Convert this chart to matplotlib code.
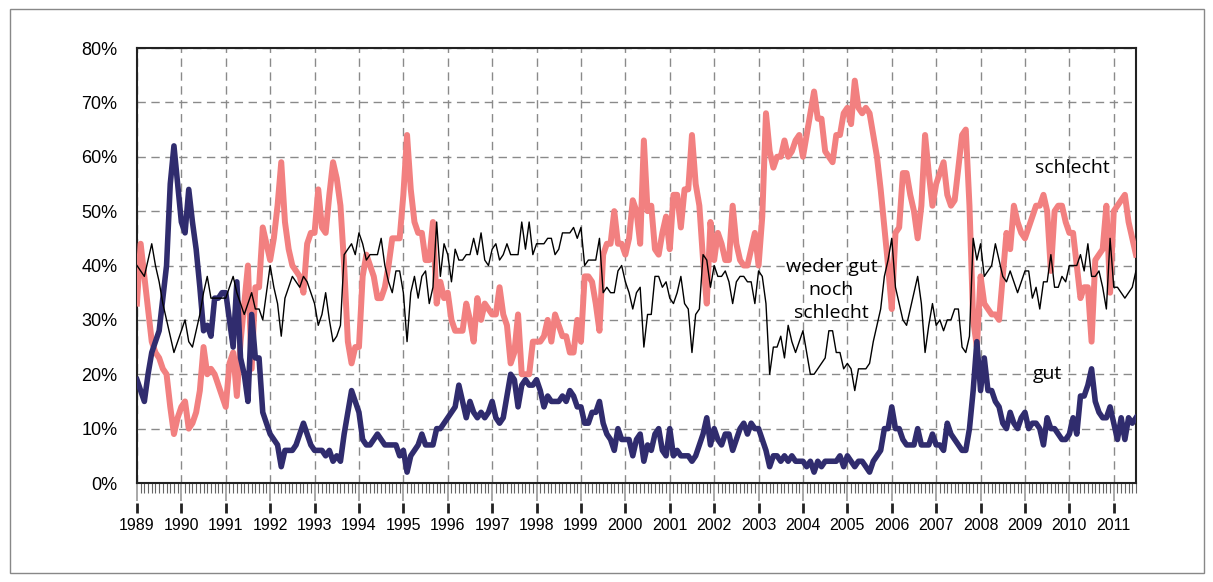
import numpy as np
import matplotlib.pyplot as plt
from matplotlib.ticker import MultipleLocator
from matplotlib.patches import Rectangle

plt.rcParams['font.family'] = ['Liberation Sans', 'DejaVu Sans']

# monthly shares in %, Jan 1989 - Jul 2011 (one row per year)
gut = [
    19, 17, 15, 20, 24, 26, 28, 34, 40, 55, 62, 55,
    48, 46, 54, 48, 43, 36, 28, 29, 27, 34, 34, 35,
    35, 30, 25, 37, 23, 20, 15, 31, 23, 23, 13, 11,
    9, 8, 7, 3, 6, 6, 6, 7, 9, 11, 9, 7,
    6, 6, 6, 5, 6, 4, 5, 4, 9, 13, 17, 15,
    13, 8, 7, 7, 8, 9, 8, 7, 7, 7, 7, 5,
    6, 2, 5, 6, 7, 9, 7, 7, 7, 10, 10, 11,
    12, 13, 14, 18, 15, 12, 15, 13, 12, 13, 12, 13,
    15, 12, 11, 12, 16, 20, 19, 14, 18, 19, 18, 18,
    19, 17, 14, 16, 15, 15, 15, 16, 15, 17, 16, 14,
    14, 11, 11, 13, 13, 15, 11, 9, 8, 6, 10, 8,
    8, 8, 5, 8, 9, 4, 7, 6, 9, 10, 6, 5,
    10, 5, 6, 5, 5, 5, 4, 5, 7, 9, 12, 7,
    10, 8, 7, 9, 9, 6, 8, 10, 11, 9, 11, 10,
    10, 8, 6, 3, 5, 5, 4, 5, 4, 5, 4, 4,
    4, 3, 4, 2, 4, 3, 4, 4, 4, 4, 5, 3,
    5, 4, 3, 4, 4, 3, 2, 4, 5, 6, 10, 10,
    14, 10, 10, 8, 7, 7, 7, 10, 7, 7, 7, 9,
    7, 7, 6, 11, 9, 8, 7, 6, 6, 10, 17, 26,
    17, 23, 17, 17, 15, 14, 11, 10, 13, 11, 10, 12,
    13, 10, 11, 11, 10, 7, 12, 10, 10, 9, 8, 8,
    9, 12, 9, 16, 16, 18, 21, 15, 13, 12, 12, 14,
    11, 8, 12, 8, 12, 11, 12,
]

schlecht = [
    33, 44, 38, 32, 26, 24, 23, 21, 20, 14, 9, 12,
    14, 15, 10, 11, 13, 17, 25, 20, 21, 20, 18, 16,
    14, 22, 24, 16, 26, 33, 40, 21, 36, 36, 47, 44,
    41, 45, 51, 59, 48, 43, 40, 39, 38, 35, 44, 46,
    46, 54, 47, 46, 53, 59, 56, 51, 40, 26, 22, 25,
    25, 38, 42, 40, 38, 34, 34, 36, 40, 45, 45, 45,
    53, 64, 54, 48, 46, 46, 41, 41, 48, 33, 37, 34,
    35, 30, 28, 28, 28, 33, 30, 26, 34, 30, 33, 32,
    31, 31, 36, 31, 29, 22, 24, 31, 20, 20, 20, 26,
    26, 26, 27, 30, 26, 31, 29, 27, 27, 24, 24, 30,
    26, 38, 38, 37, 33, 28, 42, 44, 44, 50, 44, 44,
    42, 45, 52, 50, 44, 63, 50, 51, 43, 42, 46, 49,
    43, 53, 53, 47, 54, 54, 64, 55, 51, 41, 33, 48,
    41, 46, 44, 41, 41, 51, 44, 41, 40, 40, 43, 46,
    40, 49, 68, 61, 58, 60, 60, 63, 60, 61, 63, 64,
    60, 64, 68, 72, 67, 67, 61, 60, 59, 64, 64, 68,
    69, 66, 74, 69, 68, 69, 68, 64, 60, 54, 47, 40,
    32, 46, 47, 57, 57, 53, 50, 45, 51, 64, 57, 51,
    55, 57, 59, 53, 51, 52, 58, 64, 65, 51, 30, 25,
    38, 33, 32, 31, 31, 30, 38, 46, 43, 51, 48, 46,
    45, 47, 49, 51, 51, 53, 50, 39, 50, 51, 51, 48,
    46, 46, 40, 34, 36, 36, 26, 41, 42, 43, 51, 35,
    50, 51, 52, 53, 48, 45, 42,
]

weder = [
    40, 39, 38, 41, 44, 40, 37, 33, 30, 27, 24, 26,
    28, 30, 26, 25, 28, 31, 35, 38, 34, 34, 34, 34,
    34, 36, 38, 35, 33, 31, 33, 35, 32, 32, 30, 35,
    40, 36, 33, 27, 34, 36, 38, 37, 36, 38, 37, 35,
    33, 29, 31, 35, 30, 26, 27, 29, 42, 43, 44, 42,
    46, 44, 41, 42, 42, 42, 45, 40, 37, 35, 39, 39,
    35, 26, 35, 38, 34, 38, 39, 33, 36, 48, 38, 44,
    42, 37, 43, 41, 41, 42, 42, 45, 42, 46, 41, 40,
    43, 44, 41, 42, 44, 42, 42, 42, 48, 43, 48, 42,
    44, 44, 44, 45, 45, 42, 43, 46, 46, 46, 47, 45,
    47, 40, 41, 41, 41, 45, 35, 36, 35, 35, 39, 40,
    37, 35, 32, 35, 36, 25, 31, 31, 38, 38, 36, 37,
    34, 33, 35, 38, 33, 32, 24, 31, 32, 42, 41, 36,
    40, 38, 38, 39, 37, 33, 37, 38, 38, 37, 37, 33,
    39, 38, 33, 20, 25, 25, 27, 23, 29, 26, 24, 26,
    28, 24, 20, 20, 21, 22, 23, 28, 28, 24, 24, 21,
    22, 21, 17, 21, 21, 21, 22, 26, 29, 32, 38, 41,
    45, 36, 33, 30, 29, 32, 35, 38, 33, 24, 29, 33,
    29, 30, 28, 30, 30, 32, 32, 25, 24, 27, 45, 41,
    44, 38, 39, 40, 44, 41, 38, 37, 39, 37, 35, 37,
    39, 39, 34, 36, 32, 37, 37, 42, 36, 36, 38, 37,
    40, 40, 40, 42, 39, 44, 38, 38, 39, 36, 32, 45,
    36, 36, 35, 34, 35, 36, 39,
]

years = list(range(1989, 2012))
pct_ticks = [0, 10, 20, 30, 40, 50, 60, 70, 80]

t = 1989 + np.arange(len(gut)) / 12

fig = plt.figure(figsize=(12.13, 5.82), dpi=100)
ax = fig.add_axes([0.1129, 0.1701, 0.8236, 0.7474])

ax.plot(t, schlecht, color='#F28080', lw=4.3, zorder=3)
ax.plot(t, gut, color='#302C6E', lw=4.0, zorder=4)
ax.plot(t, weder, color='black', lw=1.0, zorder=5)

ax.set_xlim(1989, 1989 + 270 / 12)
ax.set_ylim(0, 80)
ax.set_xticks(years)
ax.xaxis.set_minor_locator(MultipleLocator(1 / 12))
ax.set_yticks(pct_ticks)
ax.set_yticklabels([f'{v}%' for v in pct_ticks])

ax.grid(True, which='major', color='#8a8a8a', linestyle=(0, (6, 4)), lw=1)
ax.set_axisbelow(True)
ax.tick_params(axis='x', which='major', length=13, width=1.2, color='#9a9a9a',
               labelbottom=False)
ax.tick_params(axis='x', which='minor', length=7, width=0.8, color='#666666')
ax.tick_params(axis='y', length=0, pad=14, labelsize=13)
for s in ax.spines.values():
    s.set_color('#222222')
    s.set_linewidth(1.5)

# year labels with their own little bars below the axis
sec = ax.secondary_xaxis(-20 / 435)
sec.set_xticks(years)
sec.set_xticklabels([str(y) for y in years])
sec.spines['bottom'].set_visible(False)
sec.tick_params(length=7, width=2, color='#222222', pad=4, labelsize=11.5)

ax.text(2010.06, 57.9, 'schlecht', family='Open Sans', fontsize=14,
        ha='center', va='center', zorder=6)
ax.text(2009.5, 20.1, 'gut', family='Open Sans', fontsize=14,
        ha='center', va='center', zorder=6)
ax.text(2004.64, 35.5, 'weder gut\nnoch\nschlecht', family='Open Sans',
        fontsize=14, ha='center', va='center', linespacing=1.35, zorder=6)

fig.add_artist(Rectangle((10 / 1213, 9 / 582), 1194 / 1213, 564 / 582,
                         transform=fig.transFigure, fill=False,
                         ec='#888888', lw=1))

fig.savefig('out.png', dpi=100)
